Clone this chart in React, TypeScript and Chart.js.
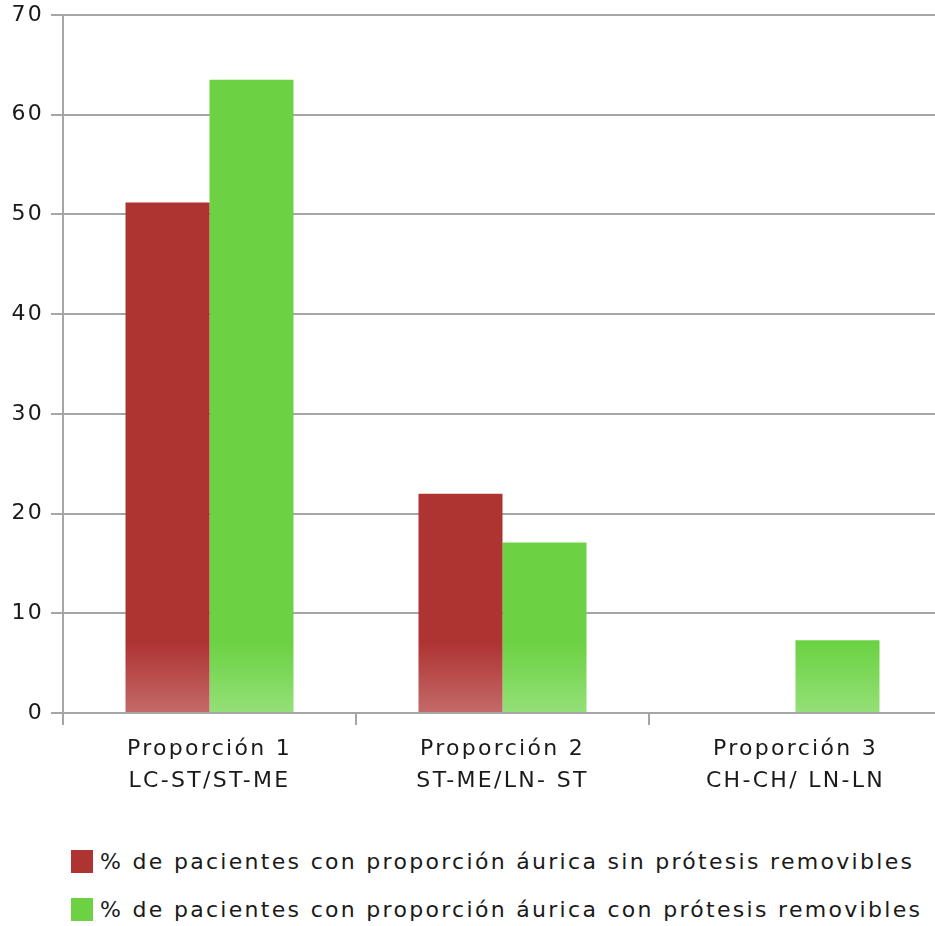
import React, { useEffect, useRef } from "react";
import { Chart, registerables } from "chart.js";

Chart.register(...registerables);

const categories: string[][] = [
  ["Proporción 1", "LC-ST/ST-ME"],
  ["Proporción 2", "ST-ME/LN- ST"],
  ["Proporción 3", "CH-CH/ LN-LN"],
];
const seriesNames = [
  "% de pacientes con proporción áurica sin prótesis removibles",
  "% de pacientes con proporción áurica con prótesis removibles",
];
const sinProtesis = [51.2, 22.0, 0];
const conProtesis = [63.5, 17.1, 7.3];
const yMin = 0;
const yMax = 70;
const yStep = 10;

const RED = "#ae3432";
const RED_LIGHT = "#c46a6a";
const GREEN = "#6cd243";
const GREEN_LIGHT = "#94e078";
const GRID = "#a6a6a6";
const TEXT = "#1a1a1a";
const FONT = "'DejaVu Sans', sans-serif";
const FONT_SIZE = 22;
const LETTER = "2.3px";

const gradient = (top: string, bottom: string) => (context: any) => {
  const chart = context.chart;
  const area = chart.chartArea;
  if (!area) return top;
  const g = chart.ctx.createLinearGradient(0, area.bottom - 70, 0, area.bottom);
  g.addColorStop(0, top);
  g.addColorStop(1, bottom);
  return g;
};

const spacingPlugin = {
  id: "letterSpacing",
  beforeUpdate(chart: any) {
    chart.ctx.letterSpacing = LETTER;
  },
  beforeLayout(chart: any) {
    chart.ctx.letterSpacing = LETTER;
  },
  beforeDraw(chart: any) {
    chart.ctx.letterSpacing = LETTER;
  },
};

export default function App() {
  const ref = useRef<HTMLCanvasElement | null>(null);

  useEffect(() => {
    if (!ref.current) return;
    const chart = new Chart(ref.current, {
      type: "bar",
      data: {
        labels: categories,
        datasets: [
          {
            label: seriesNames[0],
            data: sinProtesis,
            backgroundColor: gradient(RED, RED_LIGHT),
            borderWidth: 0,
          },
          {
            label: seriesNames[1],
            data: conProtesis,
            backgroundColor: gradient(GREEN, GREEN_LIGHT),
            borderWidth: 0,
          },
        ],
      },
      plugins: [spacingPlugin],
      options: {
        responsive: false,
        animation: false,
        layout: { padding: { top: 15, left: 0, right: 0, bottom: 0 } },
        datasets: {
          bar: { categoryPercentage: 0.5734, barPercentage: 1 },
        },
        plugins: {
          legend: { display: false },
          tooltip: { enabled: false },
        },
        scales: {
          x: {
            offset: true,
            grid: {
              display: true,
              offset: true,
              drawOnChartArea: false,
              drawTicks: true,
              tickLength: 12,
              color: GRID,
              lineWidth: 2,
            },
            border: { display: true, color: GRID, width: 2 },
            ticks: {
              color: TEXT,
              font: { family: FONT, size: FONT_SIZE, lineHeight: 1.45 },
              padding: 8,
              maxRotation: 0,
              autoSkip: false,
            },
            afterFit: (scale: any) => {
              scale.height = 800 - 713;
              scale.paddingLeft = 0;
              scale.paddingRight = 0;
            },
          },
          y: {
            min: yMin,
            max: yMax,
            grid: {
              color: GRID,
              lineWidth: 2,
              tickLength: 12,
              drawTicks: true,
            },
            border: { display: true, color: GRID, width: 2 },
            ticks: {
              stepSize: yStep,
              color: TEXT,
              font: { family: FONT, size: FONT_SIZE, lineHeight: 1.0 },
              padding: 7,
            },
            afterFit: (scale: any) => {
              scale.width = 63;
              scale.paddingTop = 0;
              scale.paddingBottom = 0;
            },
          },
        },
      },
    });
    return () => chart.destroy();
  }, []);

  const legendColors = [RED, GREEN];
  const legendTops = [850, 898];

  return (
    <div
      style={{
        position: "fixed",
        left: 0,
        top: 0,
        width: 935,
        height: 926,
        overflow: "hidden",
        background: "#ffffff",
      }}
    >
      <canvas
        ref={ref}
        width={942}
        height={800}
        style={{ position: "absolute", left: 0, top: 0, width: 942, height: 800 }}
      />
      {seriesNames.map((name, i) => (
        <div
          key={name}
          style={{
            position: "absolute",
            left: 71,
            top: legendTops[i],
            height: 23,
            display: "flex",
            alignItems: "center",
            whiteSpace: "nowrap",
          }}
        >
          <span
            style={{
              display: "inline-block",
              width: 22,
              height: 23,
              background: legendColors[i],
              marginRight: 7,
            }}
          />
          <span
            style={{
              fontFamily: FONT,
              fontSize: FONT_SIZE,
              letterSpacing: LETTER,
              color: TEXT,
              lineHeight: "23px",
            }}
          >
            {name}
          </span>
        </div>
      ))}
    </div>
  );
}
